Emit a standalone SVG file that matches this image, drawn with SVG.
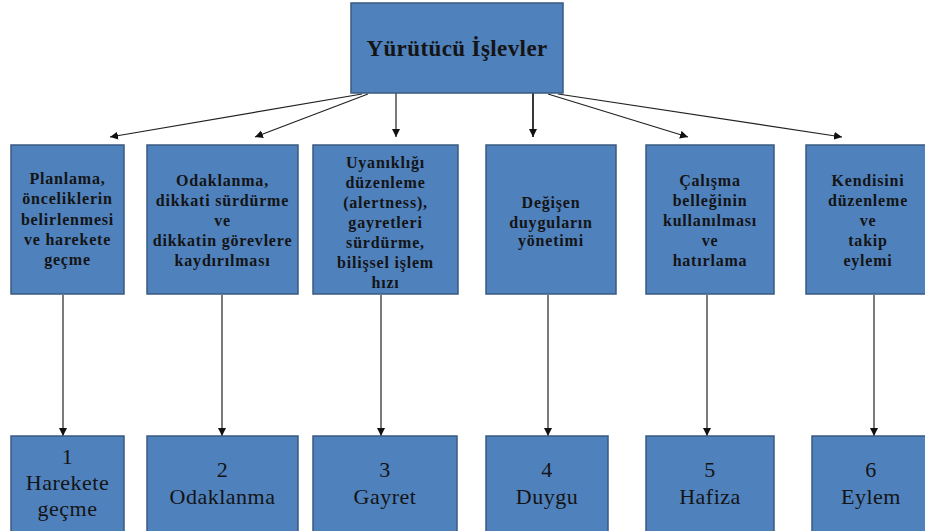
<svg xmlns="http://www.w3.org/2000/svg" width="925" height="531" viewBox="0 0 925 531">
<style>
.box{fill:#4F81BD;stroke:#3A5A80;stroke-width:1.5}
.t{font-family:"Liberation Serif","Times New Roman",serif;fill:#141414;text-anchor:middle}
.m{font-size:16px;font-weight:bold;letter-spacing:0.8px}
.b{font-size:22px;letter-spacing:0.5px}
.h{font-size:23px;font-weight:bold;letter-spacing:0.4px}
.c{stroke:#222;stroke-width:1.2;fill:none;marker-end:url(#ah)}
</style>
<defs>
<marker id="ah" viewBox="0 0 10 10" refX="10" refY="5" markerWidth="8" markerHeight="8" markerUnits="userSpaceOnUse" orient="auto">
<path d="M0,0 L10,5 L0,10 z" fill="#111"/>
</marker>
</defs>
<rect width="925" height="531" fill="#fff"/>
<g id="connectors">
<line class="c" x1="362" y1="94" x2="110" y2="137"/>
<line class="c" x1="368" y1="94" x2="255" y2="137"/>
<line class="c" x1="396" y1="93" x2="396" y2="137"/>
<line class="c" x1="533" y1="93" x2="533" y2="137" style="stroke-width:1.8"/>
<line class="c" x1="548" y1="94" x2="688" y2="137"/>
<line class="c" x1="558" y1="94" x2="842" y2="137"/>
<line class="c" x1="63" y1="295" x2="63" y2="436"/>
<line class="c" x1="222" y1="295" x2="222" y2="436"/>
<line class="c" x1="381" y1="295" x2="381" y2="436"/>
<line class="c" x1="548" y1="295" x2="548" y2="436"/>
<line class="c" x1="707" y1="295" x2="707" y2="436"/>
<line class="c" x1="874" y1="295" x2="874" y2="436"/>
</g>
<g id="top">
<rect class="box" x="351" y="3" width="212" height="90"/>
<text class="t h" x="457" y="56">Yürütücü İşlevler</text>
</g>
<g id="m1">
<rect class="box" x="11" y="145" width="113" height="149"/>
<text class="t m" x="67.5" y="184">Planlama,</text>
<text class="t m" x="67.5" y="204">önceliklerin</text>
<text class="t m" x="67.5" y="225">belirlenmesi</text>
<text class="t m" x="67.5" y="245">ve harekete</text>
<text class="t m" x="67.5" y="265">geçme</text>
</g>
<g id="m2">
<rect class="box" x="147" y="145" width="151" height="149"/>
<text class="t m" x="222.5" y="186">Odaklanma,</text>
<text class="t m" x="222.5" y="206">dikkati sürdürme</text>
<text class="t m" x="222.5" y="226">ve</text>
<text class="t m" x="222.5" y="246">dikkatin görevlere</text>
<text class="t m" x="222.5" y="266">kaydırılması</text>
</g>
<g id="m3">
<rect class="box" x="313" y="145" width="145" height="149"/>
<text class="t m" x="385.5" y="168">Uyanıklığı</text>
<text class="t m" x="385.5" y="188">düzenleme</text>
<text class="t m" x="385.5" y="208">(alertness),</text>
<text class="t m" x="385.5" y="228">gayretleri</text>
<text class="t m" x="385.5" y="248">sürdürme,</text>
<text class="t m" x="385.5" y="268">bilişsel işlem</text>
<text class="t m" x="385.5" y="288">hızı</text>
</g>
<g id="m4">
<rect class="box" x="486" y="145" width="130" height="149"/>
<text class="t m" x="551" y="208">Değişen</text>
<text class="t m" x="551" y="228">duyguların</text>
<text class="t m" x="551" y="246">yönetimi</text>
</g>
<g id="m5">
<rect class="box" x="646" y="145" width="128" height="149"/>
<text class="t m" x="710" y="186">Çalışma</text>
<text class="t m" x="710" y="206">belleğinin</text>
<text class="t m" x="710" y="226">kullanılması</text>
<text class="t m" x="710" y="246">ve</text>
<text class="t m" x="710" y="266">hatırlama</text>
</g>
<g id="m6">
<rect class="box" x="806" y="145" width="124" height="149"/>
<text class="t m" x="868" y="186">Kendisini</text>
<text class="t m" x="868" y="206">düzenleme</text>
<text class="t m" x="868" y="226">ve</text>
<text class="t m" x="868" y="246">takip</text>
<text class="t m" x="868" y="266">eylemi</text>
</g>
<g id="b1">
<rect class="box" x="11" y="436" width="113" height="100"/>
<text class="t b" x="67.5" y="464">1</text>
<text class="t b" x="67.5" y="490">Harekete</text>
<text class="t b" x="67.5" y="516">geçme</text>
</g>
<g id="b2">
<rect class="box" x="147" y="436" width="151" height="100"/>
<text class="t b" x="222.5" y="477">2</text>
<text class="t b" x="222.5" y="504">Odaklanma</text>
</g>
<g id="b3">
<rect class="box" x="313" y="436" width="144" height="100"/>
<text class="t b" x="385" y="477">3</text>
<text class="t b" x="385" y="504">Gayret</text>
</g>
<g id="b4">
<rect class="box" x="486" y="436" width="122" height="100"/>
<text class="t b" x="547" y="477">4</text>
<text class="t b" x="547" y="504">Duygu</text>
</g>
<g id="b5">
<rect class="box" x="646" y="436" width="128" height="100"/>
<text class="t b" x="710" y="477">5</text>
<text class="t b" x="710" y="504">Hafiza</text>
</g>
<g id="b6">
<rect class="box" x="812" y="436" width="118" height="100"/>
<text class="t b" x="871" y="477">6</text>
<text class="t b" x="871" y="504">Eylem</text>
</g>
</svg>
